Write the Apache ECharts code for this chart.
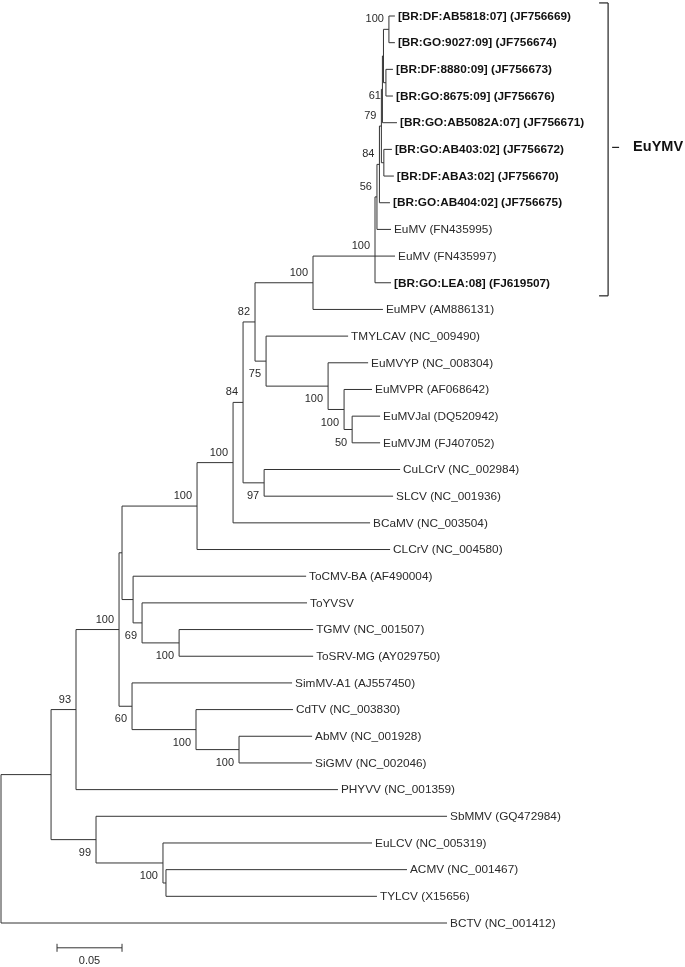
<!DOCTYPE html>
<html>
<head>
<meta charset="utf-8">
<script src="https://cdn.jsdelivr.net/npm/echarts@6/dist/echarts.min.js"></script>
<style>html,body{margin:0;padding:0;background:#fff}#chart{width:685px;height:967px}</style>
</head>
<body>
<div id="chart"></div>
<script>
// ---- data ----
const leafNames = [
  "[BR:DF:AB5818:07] (JF756669)", "[BR:GO:9027:09] (JF756674)", "[BR:DF:8880:09] (JF756673)",
  "[BR:GO:8675:09] (JF756676)", "[BR:GO:AB5082A:07] (JF756671)", "[BR:GO:AB403:02] (JF756672)",
  "[BR:DF:ABA3:02] (JF756670)", "[BR:GO:AB404:02] (JF756675)", "EuMV (FN435995)", "EuMV (FN435997)",
  "[BR:GO:LEA:08] (FJ619507)", "EuMPV (AM886131)", "TMYLCAV (NC_009490)", "EuMVYP (NC_008304)",
  "EuMVPR (AF068642)", "EuMVJal (DQ520942)", "EuMVJM (FJ407052)", "CuLCrV (NC_002984)",
  "SLCV (NC_001936)", "BCaMV (NC_003504)", "CLCrV (NC_004580)", "ToCMV-BA (AF490004)", "ToYVSV",
  "TGMV (NC_001507)", "ToSRV-MG (AY029750)", "SimMV-A1 (AJ557450)", "CdTV (NC_003830)",
  "AbMV (NC_001928)", "SiGMV (NC_002046)", "PHYVV (NC_001359)", "SbMMV (GQ472984)",
  "EuLCV (NC_005319)", "ACMV (NC_001467)", "TYLCV (X15656)", "BCTV (NC_001412)"
];
const boldLeaves = [0, 1, 2, 3, 4, 5, 6, 7, 10];
// topology with branch lengths (leaf ids index leafNames) and bootstrap values
const treeNewick = "(((((((((((((((((0:0.0046,1:0.0046)100:0.0042,(2:0.0054,3:0.0054)61:0.0019):0.0008,4:0.0112):0.0008,(5:0.0062,6:0.0077):0.0019)79:0.0015,7:0.0081)84:0.0019,8:0.0108)56:0.0015,9:0.0154,10:0.0123)100:0.0477,11:0.0538)100:0.0446,(12:0.0631,(13:0.0308,(14:0.0215,(15:0.0215,16:0.0215)50:0.0062)100:0.0123)100:0.0477)75:0.0085)82:0.0092,(17:0.1046,18:0.0992)97:0.0162)84:0.0077,19:0.1054)100:0.0277,20:0.1485)100:0.0577,(21:0.1331,(22:0.1269,(23:0.1031,24:0.1031)100:0.0285)69:0.0069):0.0085):0.0023,(25:0.1231,(26:0.0746,(27:0.0562,28:0.0562)100:0.0331)100:0.0492)60:0.01)100:0.0331,29:0.2015)93:0.0192,(30:0.27,(31:0.1608,(32:0.1854,33:0.1623):0.0023)100:0.0515)99:0.0346):0.0385,34:0.3431);";
const cladeName = "EuYMV";
const cladeRange = [0, 10];
const scaleBarLength = 0.05;
const scaleBarLabel = "0.05";

// ---- parse & layout ----
function parseNewick(s) {
  let i = 0;
  function node() {
    const n = { children: [] };
    if (s[i] === '(') {
      i++;
      n.children.push(node());
      while (s[i] === ',') { i++; n.children.push(node()); }
      i++;
    }
    let lab = '';
    while (i < s.length && ':,);'.indexOf(s[i]) < 0) lab += s[i++];
    let len = 0;
    if (s[i] === ':') {
      i++;
      let b = '';
      while (i < s.length && ',);'.indexOf(s[i]) < 0) b += s[i++];
      len = parseFloat(b);
    }
    n.len = len;
    if (n.children.length) n.boot = lab; else n.leaf = parseInt(lab, 10);
    return n;
  }
  return node();
}
const root = parseNewick(treeNewick);
const branchSegs = [];   // [x0, y0, x1, y1]
const leafPts = [];      // [x, row, leafIndex]
const bootPts = [];      // [x, y, label, position]
function layout(n, px) {
  n.x = px + n.len;
  if (n.leaf !== undefined) {
    n.y = n.leaf;
    leafPts.push([n.x, n.y, n.leaf]);
  } else {
    n.children.forEach(c => layout(c, n.x));
    const k = n.children.length;
    const first = n.children[0].y, last = n.children[k - 1].y;
    n.y = (k % 2 === 1) ? n.children[(k - 1) / 2].y : (first + last) / 2;
    branchSegs.push([n.x, first, n.x, last]);
    n.children.forEach((c, ci) => {
      branchSegs.push([n.x, c.y, c.x, c.y]);
      if (c.boot) bootPts.push([c.x, c.y, c.boot, ci === 0 ? 'above' : 'below']);
    });
  }
}
layout(root, 0);

const FONT = "'Liberation Sans', Arial, Helvetica, sans-serif";
const LINE = '#333333';

const chart = echarts.init(document.getElementById('chart'), null, { renderer: 'canvas' });
chart.setOption({
  animation: false,
  backgroundColor: '#ffffff',
  grid: { left: 1, top: 16, width: 650, height: 907 },
  xAxis: { type: 'value', min: 0, max: 0.5, show: false },
  yAxis: { type: 'value', min: 0, max: 34, inverse: true, show: false },
  series: [
    {
      type: 'custom', silent: true, clip: false,
      data: branchSegs,
      renderItem: function (params, api) {
        const p0 = api.coord([api.value(0), api.value(1)]);
        const p1 = api.coord([api.value(2), api.value(3)]);
        return { type: 'line', shape: { x1: p0[0], y1: p0[1], x2: p1[0], y2: p1[1] },
          style: { stroke: LINE, lineWidth: 1 } };
      }
    },
    {
      type: 'custom', silent: true, clip: false,
      data: leafPts.map(d => [d[0], d[1]]),
      renderItem: function (params, api) {
        const d = leafPts[params.dataIndex];
        const p = api.coord([d[0], d[1]]);
        const bold = boldLeaves.indexOf(d[2]) >= 0;
        return { type: 'text', style: {
          text: leafNames[d[2]], x: p[0] + 3, y: p[1] + 0.5,
          textAlign: 'left', textVerticalAlign: 'middle',
          font: (bold ? 'bold ' : '') + '11.8px ' + FONT,
          fill: bold ? '#111' : '#2a2a2a' } };
      }
    },
    {
      type: 'custom', silent: true, clip: false,
      data: bootPts.map(d => [d[0], d[1]]),
      renderItem: function (params, api) {
        const d = bootPts[params.dataIndex];
        const p = api.coord([d[0], d[1]]);
        return { type: 'text', style: {
          text: d[2], x: p[0] - 5, y: p[1] + (d[3] === 'above' ? -10 : 13),
          textAlign: 'right', textVerticalAlign: 'middle',
          font: '11px ' + FONT, fill: '#2a2a2a' } };
      }
    },
    {
      type: 'custom', silent: true, clip: false,
      data: [[0, 0]],
      renderItem: function (params, api) {
        // clade bracket
        const bx = api.coord([0.467, 0])[0];
        const yt = api.coord([0, cladeRange[0] - 0.49])[1];
        const yb = api.coord([0, cladeRange[1] + 0.49])[1];
        const ym = (yt + yb) / 2 - 2;
        // scale bar
        const s0 = api.coord([0.0431, 34.93]);
        const s1 = api.coord([0.0431 + scaleBarLength, 34.93]);
        const ls = { stroke: '#222', lineWidth: 1.2 };
        return { type: 'group', children: [
          { type: 'line', shape: { x1: bx, y1: yt, x2: bx, y2: yb }, style: ls },
          { type: 'line', shape: { x1: bx - 9, y1: yt, x2: bx, y2: yt }, style: ls },
          { type: 'line', shape: { x1: bx - 9, y1: yb, x2: bx, y2: yb }, style: ls },
          { type: 'line', shape: { x1: bx + 4, y1: ym, x2: bx + 11, y2: ym }, style: ls },
          { type: 'text', style: { text: cladeName, x: bx + 25, y: ym, textAlign: 'left',
              textVerticalAlign: 'middle', font: 'bold 14.5px ' + FONT, fill: '#111' } },
          { type: 'line', shape: { x1: s0[0], y1: s0[1], x2: s1[0], y2: s1[1] }, style: { stroke: LINE, lineWidth: 1 } },
          { type: 'line', shape: { x1: s0[0], y1: s0[1] - 4, x2: s0[0], y2: s0[1] + 4 }, style: { stroke: LINE, lineWidth: 1 } },
          { type: 'line', shape: { x1: s1[0], y1: s1[1] - 4, x2: s1[0], y2: s1[1] + 4 }, style: { stroke: LINE, lineWidth: 1 } },
          { type: 'text', style: { text: scaleBarLabel, x: (s0[0] + s1[0]) / 2, y: s0[1] + 13,
              textAlign: 'center', textVerticalAlign: 'middle', font: '11px ' + FONT, fill: '#2a2a2a' } }
        ] };
      }
    }
  ]
});
</script>
</body>
</html>
